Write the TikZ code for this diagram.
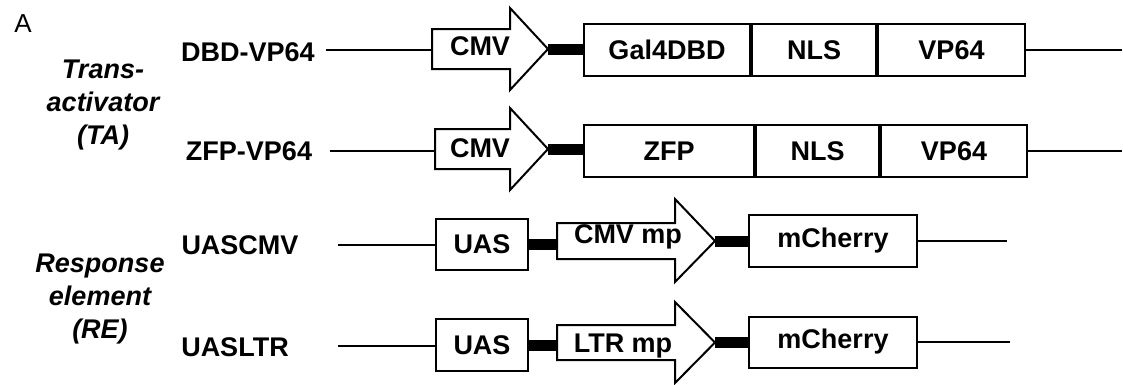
\documentclass[tikz,border=0pt]{standalone}
\usepackage{fontspec}
\setmainfont{Liberation Sans}
\begin{document}
\begin{tikzpicture}[x=1pt,y=-1pt,
  lbl/.style={font=\fontsize{27}{33}\selectfont\bfseries, inner sep=0pt},
  grp/.style={font=\fontsize{27}{33}\selectfont\bfseries\itshape, inner sep=0pt, align=center},
  box/.style={draw, line width=2pt, rectangle, inner sep=0pt, anchor=west,
              font=\fontsize{27}{33}\selectfont\bfseries},
  thinline/.style={line width=2pt},
  bar/.style={line width=11pt},
  prom/.style={draw, line width=2pt, line join=miter}]
\useasboundingbox (0,0) rectangle (1123,384);

% panel letter
\node[inner sep=0pt, font=\fontsize{26}{30}\selectfont] (A) at (23,24) {A};

% group labels
\node[grp] (TA) at (103,105.5) {Trans-\\activator\\(TA)};
\node[grp] (RE) at (100,299.5) {Response\\element\\(RE)};

% ---------- Row 1: DBD-VP64 ----------
\node[lbl, anchor=base] (L1) at (248,61) {DBD-VP64};
\coordinate (l1s) at (326,50);
\draw[prom] (432,29) -- (510,29) -- (510,8) -- (548,49) -- (510,90) -- (510,69) -- (432,69) -- cycle;
\coordinate (p1back) at (432,50);
\coordinate (p1tip) at (548,49);
\node[lbl, anchor=base] (c1) at (480,55) {CMV};
\node[box, minimum width=166pt, minimum height=52pt] (gal) at (583,50) {Gal4DBD};
\node[box, minimum width=124pt, minimum height=52pt] (nls1) at (gal.east) {NLS};
\node[box, minimum width=147pt, minimum height=52pt] (vp1) at (nls1.east) {VP64};
\draw[line width=3pt] (gal.north east) -- (gal.south east);
\coordinate (r1e) at (1122,50);
\draw[thinline] (l1s) -- (p1back);
\draw[bar] (p1tip) -- (p1tip -| gal.west);
\draw[thinline] (vp1.east) -- (r1e);

% ---------- Row 2: ZFP-VP64 ----------
\node[lbl, anchor=base] (L2) at (249,160) {ZFP-VP64};
\coordinate (l2s) at (330,151);
\draw[prom] (435,129) -- (510,129) -- (510,108) -- (548,149) -- (510,190) -- (510,169) -- (435,169) -- cycle;
\coordinate (p2back) at (435,151);
\coordinate (p2tip) at (548,149);
\node[lbl, anchor=base] (c2) at (480,157) {CMV};
\node[box, minimum width=170pt, minimum height=52pt] (zfp) at (583,151) {ZFP};
\node[box, minimum width=123pt, minimum height=52pt] (nls2) at (zfp.east) {NLS};
\node[box, minimum width=146pt, minimum height=52pt] (vp2) at (nls2.east) {VP64};
\coordinate (r2e) at (1122,151);
\draw[thinline] (l2s) -- (p2back);
\draw[bar] (p2tip) -- (p2tip -| zfp.west);
\draw[thinline] (vp2.east) -- (r2e);

% ---------- Row 3: UASCMV ----------
\node[lbl, anchor=base] (L3) at (240,254) {UASCMV};
\coordinate (l3s) at (338,245);
\node[box, minimum width=92pt, minimum height=51pt] (uas3) at (435,244) {UAS};
\draw[prom] (557,223) -- (675,223) -- (675,199) -- (715,241) -- (675,282) -- (675,259) -- (557,259) -- cycle;
\coordinate (p3back) at (557,244);
\coordinate (p3tip) at (715,241);
\node[lbl, anchor=base] (c3) at (628,243) {CMV mp};
\node[box, minimum width=168pt, minimum height=52pt] (mch3) at (748,241) {mCherry};
\coordinate (r3e) at (1007,241);
\draw[thinline] (l3s) -- (l3s -| uas3.west);
\draw[bar] (uas3.east) -- (p3back);
\draw[bar] (p3tip) -- (mch3.west);
\draw[thinline] (mch3.east) -- (r3e);

% ---------- Row 4: UASLTR ----------
\node[lbl, anchor=base] (L4) at (235,356) {UASLTR};
\coordinate (l4s) at (338,346);
\node[box, minimum width=92pt, minimum height=52pt] (uas4) at (435,345) {UAS};
\draw[prom] (557,325) -- (675,325) -- (675,302) -- (715,342.5) -- (675,383) -- (675,360) -- (557,360) -- cycle;
\coordinate (p4back) at (557,345);
\coordinate (p4tip) at (715,342.5);
\node[lbl, anchor=base] (c4) at (623,352) {LTR mp};
\node[box, minimum width=168pt, minimum height=51pt] (mch4) at (748,342) {mCherry};
\coordinate (r4e) at (1010,342);
\draw[thinline] (l4s) -- (l4s -| uas4.west);
\draw[bar] (uas4.east) -- (p4back);
\draw[bar] (p4tip) -- (p4tip -| mch4.west);
\draw[thinline] (mch4.east) -- (r4e);
\end{tikzpicture}
\end{document}
